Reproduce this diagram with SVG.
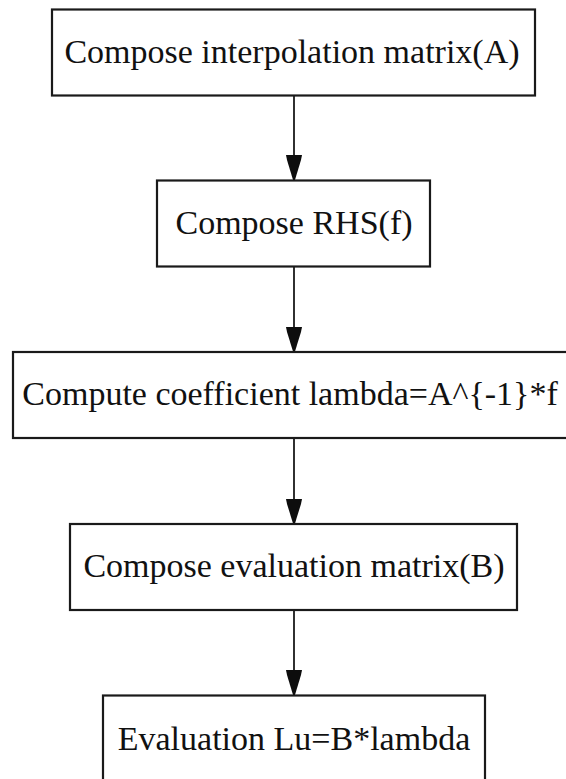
<svg xmlns="http://www.w3.org/2000/svg" width="566" height="779" viewBox="0 0 566 779">
  <style>
    .box { fill: #ffffff; stroke: #1a1a1a; stroke-width: 2.2; }
    .label { font-family: "Liberation Serif", "Times New Roman", serif; font-size: 34px; fill: #111111; text-anchor: middle; }
    .edge { stroke: #1a1a1a; stroke-width: 1.8; fill: none; }
    .head { fill: #0d0d0d; stroke: none; }
  </style>
  <rect x="0" y="0" width="566" height="779" fill="#ffffff"/>

  <!-- connectors: vertical flow with filled arrowheads -->
  <g id="connectors">
    <line class="edge" x1="294" y1="96" x2="294" y2="156"/>
    <polygon class="head" points="286,155 302,155 301,160 294.8,180.5 293.2,180.5 287,160"/>
    <line class="edge" x1="294" y1="267" x2="294" y2="328"/>
    <polygon class="head" points="286,327 302,327 301,332 294.8,352 293.2,352 287,332"/>
    <line class="edge" x1="294" y1="438" x2="294" y2="500"/>
    <polygon class="head" points="286,499 302,499 301,504 294.8,524 293.2,524 287,504"/>
    <line class="edge" x1="294" y1="610" x2="294" y2="671"/>
    <polygon class="head" points="286,670 302,670 301,675 294.8,695.5 293.2,695.5 287,675"/>
  </g>

  <g id="node-interpolation">
    <rect class="box" x="52" y="9.5" width="483" height="86"/>
    <text class="label" x="292" y="63">Compose interpolation matrix(A)</text>
  </g>

  <g id="node-rhs">
    <rect class="box" x="157" y="180.5" width="273" height="86"/>
    <text class="label" x="294" y="233.5">Compose RHS(f)</text>
  </g>

  <g id="node-coefficient">
    <rect class="box" x="13" y="352" width="562" height="86"/>
    <text class="label" x="290" y="405">Compute coefficient lambda=A^{-1}*f</text>
  </g>

  <g id="node-evaluation-matrix">
    <rect class="box" x="70" y="524" width="447" height="86"/>
    <text class="label" x="294" y="577">Compose evaluation matrix(B)</text>
  </g>

  <g id="node-evaluation">
    <rect class="box" x="103" y="695.5" width="382" height="86"/>
    <text class="label" x="294" y="750">Evaluation Lu=B*lambda</text>
  </g>
</svg>
